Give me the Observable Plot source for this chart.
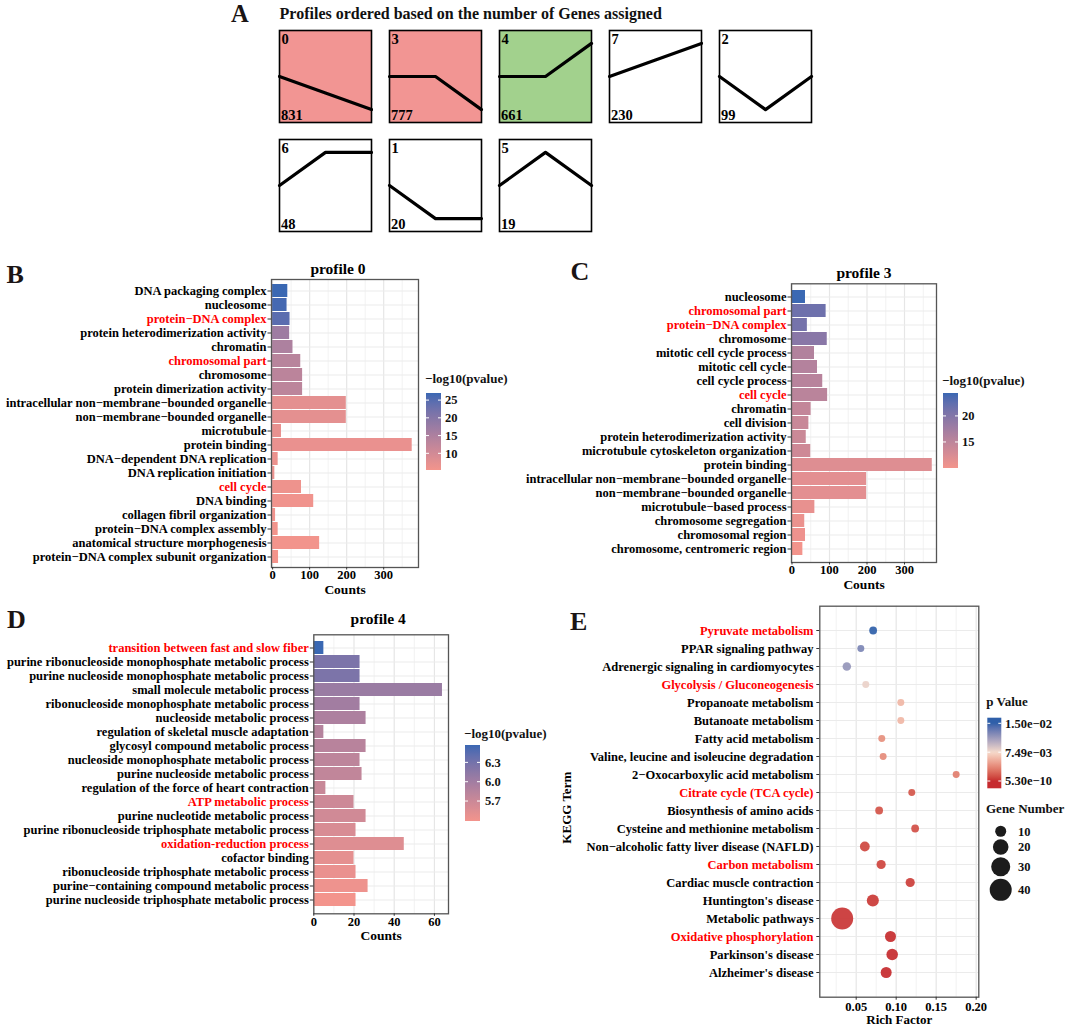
<!DOCTYPE html>
<html><head><meta charset="utf-8">
<script src="https://cdn.jsdelivr.net/npm/d3@7"></script>
<script src="https://cdn.jsdelivr.net/npm/@observablehq/plot@0.6"></script>
<style>
html,body{margin:0;padding:0;background:#fff;}
#fig{position:relative;width:1065px;height:1026px;background:#fff;overflow:hidden;}
</style></head><body><div id="fig"></div>
<script>
// ---------------- DATA ----------------
// Panel A: STEM profiles
const profileIds = [0, 3, 4, 7, 2, 6, 1, 5];
const profileCounts = [831, 777, 661, 230, 99, 48, 20, 19];
const profileShapes = [[0,-1,-2],[0,0,-1],[0,0,1],[0,1,2],[0,-1,0],[0,1,1],[0,-1,-1],[0,1,0]];
const profileFills = ["#F29593","#F29593","#A2D18D","#FFFFFF","#FFFFFF","#FFFFFF","#FFFFFF","#FFFFFF"];

// Panel B: profile 0
const bTerms = ["DNA packaging complex","nucleosome","protein−DNA complex","protein heterodimerization activity","chromatin","chromosomal part","chromosome","protein dimerization activity","intracellular non−membrane−bounded organelle","non−membrane−bounded organelle","microtubule","protein binding","DNA−dependent DNA replication","DNA replication initiation","cell cycle","DNA binding","collagen fibril organization","protein−DNA complex assembly","anatomical structure morphogenesis","protein−DNA complex subunit organization"];
const bCounts = [41,39,47,46,55,76,81,81,199,199,24,377,15,6,78,111,8,15,127,16];
const bLogP = [27,26.3,24.5,17,15,13.5,13.2,13,7.5,7.5,6.8,6.6,6.3,6.2,6,5.8,5.6,5.5,5.4,5.3];
const bRed = ["protein−DNA complex","chromosomal part","cell cycle"];
const bTicks = [0,100,200,300];
const bLegendTicks = [10,15,20,25];

// Panel C: profile 3
const cTerms = ["nucleosome","chromosomal part","protein−DNA complex","chromosome","mitotic cell cycle process","mitotic cell cycle","cell cycle process","cell cycle","chromatin","cell division","protein heterodimerization activity","microtubule cytoskeleton organization","protein binding","intracellular non−membrane−bounded organelle","non−membrane−bounded organelle","microtubule−based process","chromosome segregation","chromosomal region","chromosome, centromeric region"];
const cCounts = [36,91,41,94,60,68,82,95,51,45,38,50,374,199,199,61,34,36,29];
const cLogP = [24.4,21.5,21,19.5,16,15.8,15.5,15.3,14.5,14,13.8,13.5,12,11.5,11.5,11,10.8,10.5,10];
const cRed = ["chromosomal part","protein−DNA complex","cell cycle"];
const cTicks = [0,100,200,300];
const cLegendTicks = [15,20];

// Panel D: profile 4
const dTerms = ["transition between fast and slow fiber","purine ribonucleoside monophosphate metabolic process","purine nucleoside monophosphate metabolic process","small molecule metabolic process","ribonucleoside monophosphate metabolic process","nucleoside metabolic process","regulation of skeletal muscle adaptation","glycosyl compound metabolic process","nucleoside monophosphate metabolic process","purine nucleoside metabolic process","regulation of the force of heart contraction","ATP metabolic process","purine nucleotide metabolic process","purine ribonucleoside triphosphate metabolic process","oxidation-reduction process","cofactor binding","ribonucleoside triphosphate metabolic process","purine−containing compound metabolic process","purine nucleoside triphosphate metabolic process"];
const dCounts = [5,23,23,64,23,26,5,26,23,24,6,20,26,21,45,20,21,27,21];
const dLogP = [6.57,6.25,6.25,6.05,6.0,5.92,5.86,5.84,5.8,5.77,5.72,5.68,5.66,5.6,5.55,5.5,5.46,5.43,5.39];
const dRed = ["transition between fast and slow fiber","ATP metabolic process","oxidation-reduction process"];
const dTicks = [0,20,40,60];
const dLegendTicks = [5.7,6.0,6.3];

// Panel E: KEGG
const eTerms = ["Pyruvate metabolism","PPAR signaling pathway","Adrenergic signaling in cardiomyocytes","Glycolysis / Gluconeogenesis","Propanoate metabolism","Butanoate metabolism","Fatty acid metabolism","Valine, leucine and isoleucine degradation","2−Oxocarboxylic acid metabolism","Citrate cycle (TCA cycle)","Biosynthesis of amino acids","Cysteine and methionine metabolism","Non−alcoholic fatty liver disease (NAFLD)","Carbon metabolism","Cardiac muscle contraction","Huntington's disease","Metabolic pathways","Oxidative phosphorylation","Parkinson's disease","Alzheimer's disease"];
const eRich = [0.0712,0.0558,0.0383,0.062,0.1058,0.1058,0.082,0.0837,0.175,0.1195,0.0787,0.1237,0.0608,0.0812,0.1175,0.0708,0.0325,0.0929,0.095,0.0875];
const eGenes = [5,4,6,4,4,4,4,4,4,4,5,5,8,7,7,12,40,10,11,10];
const eP = [1.5e-2,1.25e-2,1.15e-2,8.0e-3,5.8e-3,5.8e-3,4.0e-3,3.8e-3,3.2e-3,1.5e-3,1.4e-3,1.2e-3,9e-4,8e-4,6e-4,4e-4,3e-4,2e-5,1e-6,5.3e-10];
const eRed = ["Pyruvate metabolism","Glycolysis / Gluconeogenesis","Citrate cycle (TCA cycle)","Carbon metabolism","Oxidative phosphorylation"];
const eTicks = [0.05,0.10,0.15,0.20];
const ePLegend = [5.3e-10, 7.49e-3, 1.5e-2];
const ePLegendLabels = ["5.30e−10","7.49e−03","1.50e−02"];
const eSizeLegend = [10,20,30,40];

// ---------------- STYLE ----------------
const FONT = '"Liberation Serif","Times New Roman",serif';
const LOW = "#F3948C", HIGH = "#3A68B3";
const E_COLORS = ["#C62A2E", "#F6DACB", "#2F5FA9"];
const baseStyle = {fontFamily: FONT, fontSize: "12.5px", fontWeight: "bold", color: "#000", background: "transparent", overflow: "visible"};
const fig = document.getElementById("fig");

function place(node, left, top) {
  const div = document.createElement("div");
  div.style.cssText = `position:absolute;left:${left}px;top:${top}px;width:${node.getAttribute("width")}px;`;
  div.appendChild(node);
  fig.appendChild(div);
}
function colorRed(plot, red) {
  d3.select(plot).selectAll('g[aria-label="y-axis tick label"] text').each(function () {
    if (red.includes(this.textContent)) this.setAttribute("fill", "#FF0000");
  });
}

// ---------------- PANEL A ----------------
const profiles = profileIds.map((id, i) => ({id, count: profileCounts[i], fill: profileFills[i], col: i % 5, row: Math.floor(i / 5)}));
const profilePts = profiles.flatMap((p, i) => {
  const s = profileShapes[i];
  const m = d3.max(s, Math.abs) || 1;
  return s.map((v, t) => ({col: p.col, row: p.row, t, v: v / m}));
});
const aX = [0, 2], aY = [-1.39, 1.39];
const plotA = Plot.plot({
  width: 536, height: 205, margin: 2,
  style: baseStyle,
  fx: {domain: [0,1,2,3,4], paddingInner: 18/110, paddingOuter: 0, axis: null, label: null},
  fy: {domain: [0,1], paddingInner: 17/109, paddingOuter: 0, axis: null, label: null},
  x: {domain: aX, axis: null}, y: {domain: aY, axis: null},
  color: {type: "identity"},
  marks: [
    Plot.rect(profiles, {fx: "col", fy: "row", x1: aX[0], x2: aX[1], y1: aY[0], y2: aY[1], fill: "fill"}),
    Plot.line(profilePts, {fx: "col", fy: "row", x: "t", y: "v", stroke: "#000", strokeWidth: 3.2}),
    Plot.frame({stroke: "#000", strokeWidth: 1.6}),
    Plot.text(profiles, {fx: "col", fy: "row", text: d => String(d.id), frameAnchor: "top-left", textAnchor: "start", lineAnchor: "top", dx: 2, dy: 3, fontSize: 14.5}),
    Plot.text(profiles, {fx: "col", fy: "row", text: d => String(d.count), frameAnchor: "bottom-left", textAnchor: "start", lineAnchor: "bottom", dx: 1.5, dy: -2.5, fontSize: 14.5})
  ]
});
place(plotA, 277, 28);

// ---------------- BAR PANELS ----------------
function barPanel(o) {
  const data = o.terms.map((term, i) => ({term, count: o.counts[i], logp: o.logp[i]}));
  const step = o.xTicks[1] - o.xTicks[0];
  const minor = o.xTicks.map(t => t + step / 2).filter(t => t > o.xDomain[0] && t < o.xDomain[1]);
  const plot = Plot.plot({
    width: o.width, height: o.height,
    marginLeft: o.frame.left - o.left, marginTop: o.frame.top - o.top,
    marginRight: o.left + o.width - o.frame.right, marginBottom: o.top + o.height - o.frame.bottom,
    style: baseStyle,
    x: {domain: o.xDomain, label: null},
    y: {domain: o.terms, paddingInner: 0.1, paddingOuter: 0.15, label: null},
    color: {type: "linear", domain: o.colorDomain, range: [LOW, HIGH], interpolate: "lab"},
    marks: [
      Plot.gridX(minor, {stroke: "#EDEDED", strokeOpacity: 1, strokeWidth: 0.7}),
      Plot.gridX(o.xTicks, {stroke: "#E6E6E6", strokeOpacity: 1, strokeWidth: 1.2}),
      Plot.gridY({stroke: "#EBEBEB", strokeOpacity: 1, strokeWidth: 1.2}),
      Plot.barX(data, {x: "count", y: "term", fill: "logp"}),
      Plot.frame({stroke: "#555", strokeWidth: 1.3}),
      Plot.axisX(o.xTicks, {tickSize: 2.5, tickPadding: 0.5, stroke: "#333"}),
      Plot.axisY({tickSize: 3.5, tickPadding: 1.5, stroke: "#333"}),
      Plot.text([o.xLabel], {text: d => d, frameAnchor: "bottom", lineAnchor: "top", dy: o.xLabelDy, fontSize: 13.5}),
      Plot.text([o.title], {text: d => d, frameAnchor: "top", lineAnchor: "bottom", dy: o.titleDy, dx: o.titleDx || 0, fontSize: 15.5})
    ]
  });
  colorRed(plot, o.red);
  place(plot, o.left, o.top);
}

barPanel({terms: bTerms, counts: bCounts, logp: bLogP, red: bRed, xTicks: bTicks,
  xDomain: [-3, 394], colorDomain: [5.3, 27],
  left: 0, top: 258, width: 422, height: 345,
  frame: {left: 271, right: 418, top: 279, bottom: 567},
  xLabel: "Counts", xLabelDy: 16.5, title: "profile 0", titleDy: -5.5, titleDx: -7});

barPanel({terms: cTerms, counts: cCounts, logp: cLogP, red: cRed, xTicks: cTicks,
  xDomain: [-1.3, 385.3], colorDomain: [10, 24.4],
  left: 520, top: 255, width: 420, height: 345,
  frame: {left: 791, right: 936, top: 283.3, bottom: 562},
  xLabel: "Counts", xLabelDy: 16.5, title: "profile 3", titleDy: -5.6, titleDx: 0});

barPanel({terms: dTerms, counts: dCounts, logp: dLogP, red: dRed, xTicks: dTicks,
  xDomain: [0, 67], colorDomain: [5.39, 6.57],
  left: 0, top: 600, width: 455, height: 350,
  frame: {left: 313.3, right: 448, top: 634.3, bottom: 913.3},
  xLabel: "Counts", xLabelDy: 16.5, title: "profile 4", titleDy: -11, titleDx: -3});

// ---------------- PANEL E ----------------
const eData = eTerms.map((term, i) => ({term, rich: eRich[i], genes: eGenes[i], p: eP[i]}));
const eStep = eTicks[1] - eTicks[0];
const eMinor = eTicks.map(t => t - eStep / 2);
const eDomain = [0.0045, 0.2033];
const plotE = Plot.plot({
  width: 425, height: 436,
  marginLeft: 259.3, marginRight: 6.7, marginTop: 15.7, marginBottom: 29.3,
  style: baseStyle,
  x: {domain: eDomain, label: null},
  y: {type: "point", domain: eTerms, padding: 1.18, label: null},
  r: {domain: [0, 40], range: [0, 11]},
  color: {type: "linear", domain: ePLegend, range: E_COLORS, interpolate: "lab"},
  marks: [
    Plot.gridX(eMinor.filter(t => t > eDomain[0]), {stroke: "#EDEDED", strokeOpacity: 1, strokeWidth: 0.7}),
    Plot.gridX(eTicks, {stroke: "#E6E6E6", strokeOpacity: 1, strokeWidth: 1.2}),
    Plot.gridY({stroke: "#EBEBEB", strokeOpacity: 1, strokeWidth: 1.2}),
    Plot.dot(eData, {x: "rich", y: "term", r: "genes", fill: "p", fillOpacity: 0.92}),
    Plot.frame({stroke: "#555", strokeWidth: 1.3}),
    Plot.axisX(eTicks, {tickSize: 3, tickPadding: 2, stroke: "#333", tickFormat: d3.format(".2f")}),
    Plot.axisY({tickSize: 3, tickPadding: 3.3, stroke: "#333"}),
    Plot.text(["Rich Factor"], {text: d => d, frameAnchor: "bottom", lineAnchor: "top", dy: 17.7, fontSize: 13}),
    Plot.text(["KEGG Term"], {text: d => d, frameAnchor: "left", textAnchor: "middle", dx: -253, dy: 6, rotate: -90, fontSize: 13})
  ]
});
colorRed(plotE, eRed);
place(plotE, 560, 590);

// ---------------- OVERLAY: letters, titles, legends ----------------
const ov = d3.select(fig).append("svg")
  .attr("width", 1065).attr("height", 1026)
  .style("position", "absolute").style("left", 0).style("top", 0)
  .style("pointer-events", "none")
  .attr("font-family", FONT).attr("font-weight", "bold");

const letters = [["A", 231, 21.5, 24.5], ["B", 6.5, 283, 26], ["C", 570.5, 280, 26], ["D", 7, 628, 26], ["E", 570, 630, 26]];
ov.selectAll("text.letter").data(letters).join("text").attr("class", "letter")
  .attr("x", d => d[1]).attr("y", d => d[2]).attr("font-size", d => d[3]).attr("fill", "#1a1414").text(d => d[0]);
ov.append("text").attr("x", 279.6).attr("y", 19).attr("font-size", 16).attr("fill", "#111")
  .text("Profiles ordered based on the number of Genes assigned");

let gradId = 0;
function colorbar(o) {
  const [[va, ya], [vb, yb]] = o.refs;
  const vAt = y => va + (y - ya) * (vb - va) / (yb - ya);
  const yAt = v => ya + (v - va) * (yb - ya) / (vb - va);
  const id = "grad" + (gradId++);
  const grad = ov.append("defs").append("linearGradient").attr("id", id)
    .attr("gradientUnits", "userSpaceOnUse").attr("x1", 0).attr("x2", 0).attr("y1", o.y0).attr("y2", o.y1);
  const N = 40;
  for (let k = 0; k <= N; k++) {
    const y = o.y0 + (o.y1 - o.y0) * k / N;
    const v = Math.max(o.domain[0], Math.min(o.domain[1], vAt(y)));
    grad.append("stop").attr("offset", k / N).attr("stop-color", o.colorOf(v));
  }
  ov.append("rect").attr("x", o.x).attr("y", o.y0).attr("width", o.w).attr("height", o.y1 - o.y0).attr("fill", `url(#${id})`);
  o.ticks.forEach((t, i) => {
    const y = yAt(t);
    ov.append("line").attr("x1", o.x).attr("x2", o.x + 3).attr("y1", y).attr("y2", y).attr("stroke", "#fff").attr("stroke-width", 1);
    ov.append("line").attr("x1", o.x + o.w - 3).attr("x2", o.x + o.w).attr("y1", y).attr("y2", y).attr("stroke", "#fff").attr("stroke-width", 1);
    ov.append("text").attr("x", o.labelX).attr("y", y).attr("dy", "0.35em").attr("font-size", 12.5).attr("fill", "#111")
      .text(o.labels ? o.labels[i] : String(t));
  });
  ov.append("text").attr("x", o.x - 1).attr("y", o.titleY).attr("font-size", 13).attr("fill", "#111").text(o.title);
}
const seqColor = d => v => d3.interpolateLab(LOW, HIGH)((v - d[0]) / (d[1] - d[0]));

colorbar({x: 426, y0: 393, y1: 470, w: 15, refs: [[27, 393], [5.3, 470]], domain: [5.3, 27], colorOf: seqColor([5.3, 27]),
  ticks: bLegendTicks, labelX: 445, title: "−log10(pvalue)", titleY: 383});
colorbar({x: 943, y0: 393, y1: 468, w: 15, refs: [[24.4, 393], [10, 468]], domain: [10, 24.4], colorOf: seqColor([10, 24.4]),
  ticks: cLegendTicks, labelX: 962, title: "−log10(pvalue)", titleY: 385});
colorbar({x: 465, y0: 745, y1: 821, w: 15, refs: [[6.57, 745], [5.39, 821]], domain: [5.39, 6.57], colorOf: seqColor([5.39, 6.57]),
  ticks: dLegendTicks, labels: dLegendTicks.map(d3.format(".1f")), labelX: 485, title: "−log10(pvalue)", titleY: 737.5});
const eColorScale = d3.scaleLinear().domain(ePLegend).range(E_COLORS).interpolate(d3.interpolateLab);
colorbar({x: 987.3, y0: 717.7, y1: 788.3, w: 14, refs: [[1.5e-2, 723.3], [5.3e-10, 781]], domain: [5.3e-10, 1.5e-2], colorOf: v => eColorScale(v),
  ticks: ePLegend, labels: ePLegendLabels, labelX: 1005, title: "p Value", titleY: 706});

// size legend (same sqrt mapping as the r scale above)
const rOf = v => 11 * Math.sqrt(v / 40);
ov.append("text").attr("x", 986).attr("y", 813).attr("font-size", 13).attr("fill", "#111").text("Gene Number");
let yCur = 831 - (rOf(eSizeLegend[0]) * 2 + 2) / 2;
eSizeLegend.forEach(v => {
  const h = rOf(v) * 2 + 2.5;
  const cy = yCur + h / 2;
  ov.append("circle").attr("cx", 1000.7).attr("cy", cy).attr("r", rOf(v)).attr("fill", "#1c1c1c");
  ov.append("text").attr("x", 1018).attr("y", cy).attr("dy", "0.35em").attr("font-size", 12.5).attr("fill", "#111").text(String(v));
  yCur += h;
});
</script></body></html>
